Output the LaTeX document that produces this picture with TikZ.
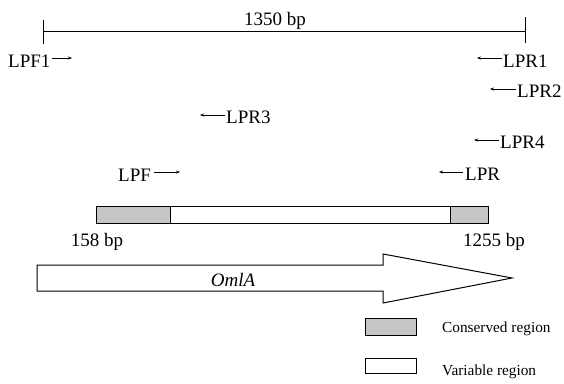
\documentclass[tikz,border=0pt]{standalone}
\usepackage{fontspec}
\setmainfont{Liberation Serif}
\usetikzlibrary{arrows.meta}
\begin{document}
\begin{tikzpicture}[x=1pt,y=-1pt,
  lbl/.style={inner sep=0pt,anchor=base west,font=\fontsize{19}{22}\selectfont},
  bplbl/.style={inner sep=0pt,anchor=base,font=\fontsize{19}{22}\selectfont},
  legtxt/.style={inner sep=0pt,anchor=base west,font=\fontsize{15.3}{18}\selectfont},
  primer/.style={line width=0.7pt,-{Stealth[length=4pt,width=3pt]}},
  cons/.style={draw,line width=0.9pt,fill=gray!45},
  vari/.style={draw,line width=0.9pt,fill=white},
  bar/.style={line width=0.9pt}]
\useasboundingbox (0,0) rectangle (564,383);

% scale bar
\coordinate (sbL) at (43,31);
\coordinate (sbR) at (525,31);
\draw[bar] (sbL) -- (sbR);
\draw[bar] (43,20) -- (43,44);
\draw[bar] (525,17) -- (525,43);
\node[bplbl] (len) at (275,25) {1350 bp};

% primers
\node[lbl] (lpf1) at (8,67) {LPF1};
\coordinate (lpf1e) at (72,58);
\draw[primer] ([xshift=1pt]lpf1.base east |- lpf1e) -- (lpf1e);

\node[lbl] (lpr1) at (503,67) {LPR1};
\coordinate (lpr1e) at (477,58);
\draw[primer] ([xshift=-1pt]lpr1.base west |- lpr1e) -- (lpr1e);

\node[lbl] (lpr2) at (517,97) {LPR2};
\coordinate (lpr2e) at (490,89);
\draw[primer] ([xshift=-1pt]lpr2.base west |- lpr2e) -- (lpr2e);

\node[lbl] (lpr3) at (226,123) {LPR3};
\coordinate (lpr3e) at (200,115);
\draw[primer] ([xshift=-1pt]lpr3.base west |- lpr3e) -- (lpr3e);

\node[lbl] (lpr4) at (500,148) {LPR4};
\coordinate (lpr4e) at (474,140);
\draw[primer] ([xshift=-1pt]lpr4.base west |- lpr4e) -- (lpr4e);

\node[lbl] (lpf) at (118,181) {LPF};
\coordinate (lpfe) at (180,172);
\draw[primer] ([xshift=3pt]lpf.base east |- lpfe) -- (lpfe);

\node[lbl] (lpr) at (465,180) {LPR};
\coordinate (lpre) at (439,172);
\draw[primer] ([xshift=-2pt]lpr.base west |- lpre) -- (lpre);

% gene bar
\draw[vari] (96,206) rectangle (488,223);
\draw[cons] (96,206) rectangle (170,223);
\draw[cons] (450,206) rectangle (488,223);
\node[bplbl] (p158) at (97,246) {158 bp};
\node[bplbl] (p1255) at (494,246) {1255 bp};

% OmlA arrow
\draw[line width=1pt,fill=white] (37,265) -- (383,265) -- (383,254) -- (512,278) -- (383,303) -- (383,291) -- (37,291) -- cycle;
\node[inner sep=0pt,anchor=base,font=\fontsize{19}{22}\selectfont\itshape] (oml) at (233,286) {OmlA};

% legend
\node[cons,minimum width=51pt,minimum height=17pt,inner sep=0pt] (lc) at (390.5,327) {};
\node[legtxt] (lct) at (442,332) {Conserved region};
\node[vari,minimum width=51pt,minimum height=15pt,inner sep=0pt] (lv) at (390.5,366) {};
\node[legtxt] (lvt) at (442,375) {Variable region};
\end{tikzpicture}
\end{document}
